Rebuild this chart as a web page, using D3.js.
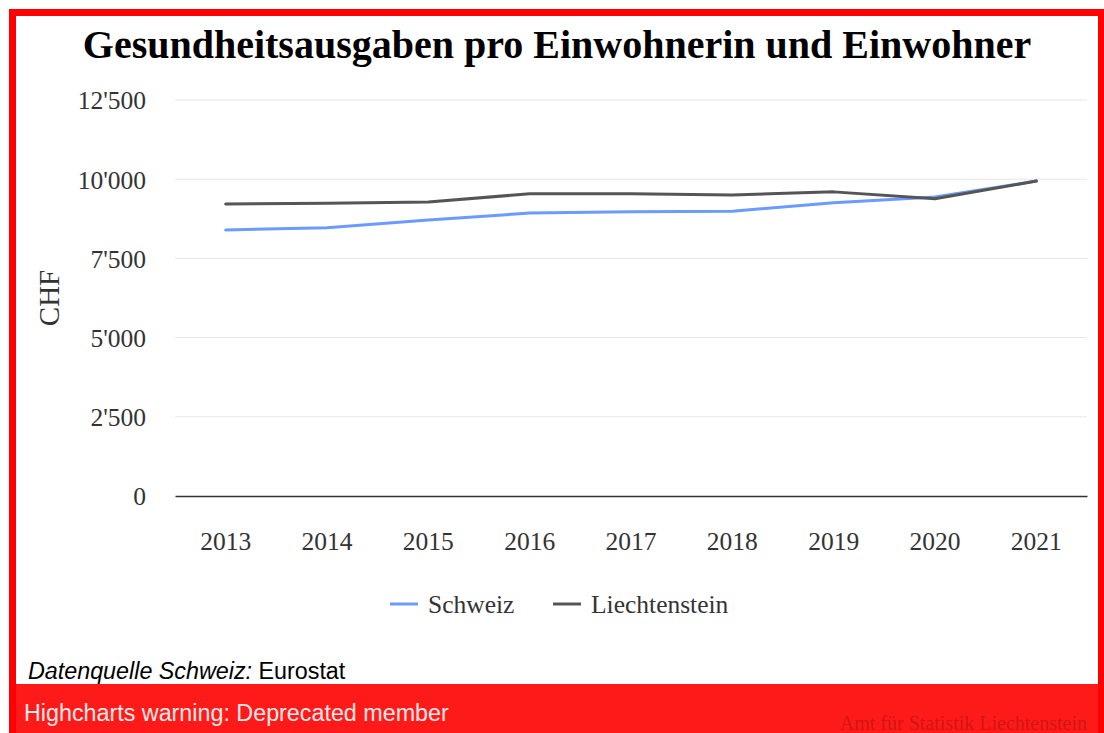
<!DOCTYPE html>
<html>
<head>
<meta charset="utf-8">
<script src="https://cdn.jsdelivr.net/npm/d3@7"></script>
<style>
  body { margin: 0; background: #fff; }
  svg { display: block; }
</style>
</head>
<body>
<svg id="chart" width="1104" height="733"></svg>
<script>
// data
var years = ["2013", "2014", "2015", "2016", "2017", "2018", "2019", "2020", "2021"];
var schweiz = [8400, 8470, 8710, 8930, 8970, 8990, 9260, 9440, 9940];
var liechtenstein = [9220, 9240, 9280, 9540, 9540, 9500, 9600, 9380, 9940];
var yTicks = [0, 2500, 5000, 7500, 10000, 12500];
var seriesNames = ["Schweiz", "Liechtenstein"];
var seriesColors = ["#6b9bff", "#555555"];

var svg = d3.select("#chart");
var serif = "'Liberation Serif', 'DejaVu Serif', serif";
var sans = "'Liberation Sans', Arial, sans-serif";

// frame + warning panel
svg.append("rect").attr("x", 0).attr("y", 0).attr("width", 1104).attr("height", 733).attr("fill", "#fff");
svg.append("rect").attr("x", 9).attr("y", 684).attr("width", 1095).attr("height", 49).attr("fill", "#ff1a1a");
svg.append("rect")
  .attr("x", 12.5).attr("y", 12.5).attr("width", 1089).attr("height", 730)
  .attr("fill", "none").attr("stroke", "#ff0000").attr("stroke-width", 7);

var margin = {left: 175, right: 1087, top: 100, bottom: 496};

var x = d3.scaleBand().domain(years).range([margin.left, margin.right]);
var y = d3.scaleLinear().domain([0, 12500]).range([margin.bottom, margin.top]);

var fmt = function(v) { return d3.format(",")(v).replace(/,/g, "'"); };

// title
svg.append("text")
  .attr("x", 557).attr("y", 58)
  .attr("text-anchor", "middle")
  .style("font-family", serif).style("font-size", "40px").style("font-weight", "bold")
  .attr("fill", "#000")
  .text("Gesundheitsausgaben pro Einwohnerin und Einwohner");

// grid
svg.append("g").selectAll("line").data(yTicks.filter(function(d) { return d > 0; })).enter()
  .append("line")
  .attr("x1", margin.left).attr("x2", margin.right)
  .attr("y1", function(d) { return y(d); }).attr("y2", function(d) { return y(d); })
  .attr("stroke", "#e6e6e6").attr("stroke-width", 1);

// y axis labels
var yAxis = d3.axisLeft(y).tickValues(yTicks).tickFormat(fmt).tickSize(0).tickPadding(0);
var gy = svg.append("g").attr("transform", "translate(146,0)").call(yAxis);
gy.select(".domain").remove();
gy.selectAll("text")
  .style("font-family", serif).style("font-size", "25.5px").attr("fill", "#333").attr("dy", "0.35em");

// x axis
var xAxis = d3.axisBottom(x).tickSize(0).tickPadding(0);
var gx = svg.append("g").attr("transform", "translate(0," + margin.bottom + ")").call(xAxis);
gx.select(".domain").attr("stroke", "#333").attr("stroke-width", 1.5);
gx.selectAll("text")
  .attr("y", 54).attr("dy", 0)
  .style("font-family", serif).style("font-size", "25.5px").attr("fill", "#333");

// axis title
svg.append("text")
  .attr("transform", "translate(49,298) rotate(-90)")
  .attr("text-anchor", "middle").attr("dy", "0.35em")
  .style("font-family", serif).style("font-size", "29px").attr("fill", "#333")
  .text("CHF");

// lines
var line = d3.line()
  .x(function(d, i) { return x(years[i]) + x.bandwidth() / 2; })
  .y(function(d) { return y(d); });

[schweiz, liechtenstein].forEach(function(s, k) {
  svg.append("path")
    .datum(s)
    .attr("d", line)
    .attr("fill", "none")
    .attr("stroke", seriesColors[k])
    .attr("stroke-width", 3)
    .attr("stroke-linejoin", "round")
    .attr("stroke-linecap", "round");
});

// legend
var legendX = [390, 553];
seriesNames.forEach(function(name, k) {
  var g = svg.append("g").attr("transform", "translate(" + legendX[k] + ",604)");
  g.append("line").attr("x1", 0).attr("x2", 28).attr("y1", 0).attr("y2", 0)
    .attr("stroke", seriesColors[k]).attr("stroke-width", 3);
  g.append("text").attr("x", 38).attr("y", 0).attr("dy", "0.35em")
    .style("font-family", serif).style("font-size", "25.5px").attr("fill", "#333")
    .text(name);
});

// source line
var src = svg.append("text").attr("x", 28).attr("y", 679)
  .style("font-family", sans).style("font-size", "23.3px").attr("fill", "#000");
src.append("tspan").style("font-style", "italic").text("Datenquelle Schweiz:");
src.append("tspan").text(" Eurostat");

// warning + credits
svg.append("text").attr("x", 24).attr("y", 721)
  .style("font-family", sans).style("font-size", "23.3px").attr("fill", "#ffe8e8")
  .text("Highcharts warning: Deprecated member");
svg.append("text").attr("x", 1087).attr("y", 730).attr("text-anchor", "end")
  .style("font-family", serif).style("font-size", "20px").attr("fill", "#d01515")
  .text("Amt für Statistik Liechtenstein");
</script>
</body>
</html>
